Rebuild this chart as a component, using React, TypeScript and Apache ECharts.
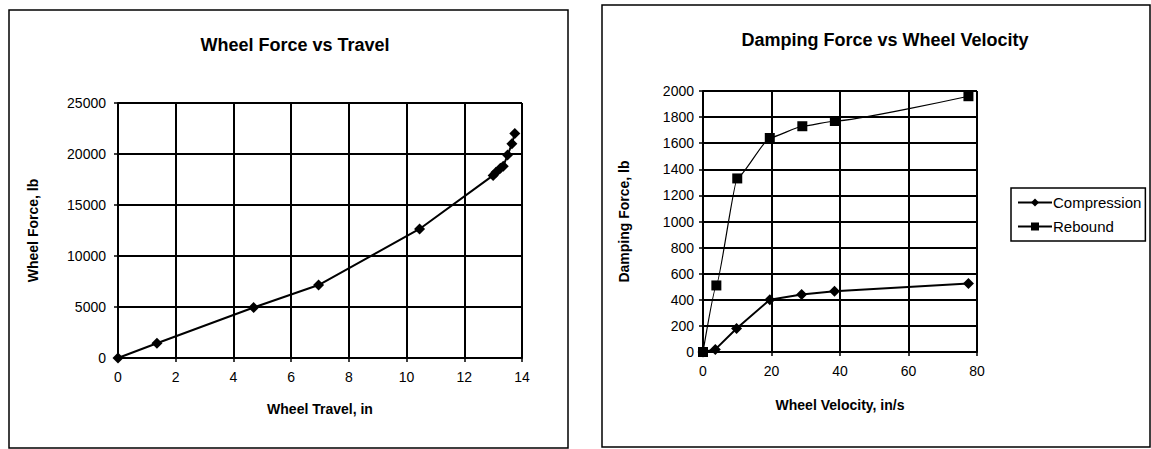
import React, { useEffect, useRef } from "react";
import * as echarts from "echarts";

// Left chart: Wheel Force vs Travel
const travelIn = [0, 1.35, 4.7, 6.95, 10.45, 13.0, 13.1, 13.25, 13.35, 13.5, 13.65, 13.75];
const wheelForceLb = [0, 1450, 4950, 7150, 12650, 17900, 18200, 18600, 18800, 19900, 21000, 22000];

// Right chart: Damping Force vs Wheel Velocity
const compVelocity = [0, 3.6, 9.8, 19.5, 28.8, 38.4, 77.5];
const compForce = [0, 20, 180, 400, 440, 465, 525];
const rebVelocity = [0, 3.9, 10, 19.5, 29, 38.5, 77.5];
const rebForce = [0, 510, 1330, 1640, 1730, 1770, 1960];

const FONT = "Liberation Sans, Arial, sans-serif";

const zip = (xs: number[], ys: number[]) => xs.map((x, i) => [x, ys[i]]);

export default function App() {
  const ref = useRef<HTMLDivElement>(null);
  useEffect(() => {
    if (!ref.current) return;
    const chart = echarts.init(ref.current, null, { renderer: "svg" });
    const axisLabel = { color: "#000", fontSize: 14, fontFamily: FONT, formatter: (v: number) => String(v) };
    const splitLine = { show: true, lineStyle: { color: "#000", width: 2 } };
    const axisLine = { show: true, onZero: false, lineStyle: { color: "#000", width: 2 } };
    const axisTick = { show: true, length: 4, lineStyle: { color: "#000", width: 1.5 } };
    const nameTextStyle = { color: "#000", fontSize: 14, fontWeight: "bold" as const, fontFamily: FONT };
    chart.setOption({
      animation: false,
      backgroundColor: "#fff",
      title: [
        {
          text: "Wheel Force vs Travel",
          left: 290,
          top: 31,
          textAlign: "center",
          textStyle: { color: "#000", fontSize: 18, fontWeight: "bold", fontFamily: FONT },
        },
        {
          text: "Damping Force vs Wheel Velocity",
          left: 880,
          top: 26,
          textAlign: "center",
          textStyle: { color: "#000", fontSize: 18, fontWeight: "bold", fontFamily: FONT },
        },
      ],
      legend: {
        data: ["Compression", "Rebound"],
        orient: "vertical",
        left: 1011,
        top: 188,
        borderColor: "#000",
        borderWidth: 1.5,
        padding: [7, 4, 7, 6],
        itemGap: 9,
        itemWidth: 34,
        itemHeight: 10,
        textStyle: { color: "#000", fontSize: 15, fontFamily: FONT, padding: [0, 0, 0, -4] },
      },
      grid: [
        { left: 118, top: 103, width: 404, height: 255, containLabel: false },
        { left: 703, top: 91, width: 274, height: 261, containLabel: false },
      ],
      xAxis: [
        {
          gridIndex: 0,
          type: "value",
          min: 0,
          max: 14,
          interval: 2,
          name: "Wheel Travel, in",
          nameLocation: "middle",
          nameGap: 44,
          nameTextStyle,
          axisLabel: { ...axisLabel, margin: 12 },
          axisLine,
          axisTick,
          splitLine,
        },
        {
          gridIndex: 1,
          type: "value",
          min: 0,
          max: 80,
          interval: 20,
          name: "Wheel Velocity, in/s",
          nameLocation: "middle",
          nameGap: 46,
          nameTextStyle,
          axisLabel: { ...axisLabel, margin: 12 },
          axisLine,
          axisTick,
          splitLine,
        },
      ],
      yAxis: [
        {
          gridIndex: 0,
          type: "value",
          min: 0,
          max: 25000,
          interval: 5000,
          name: "Wheel Force, lb",
          nameLocation: "middle",
          nameGap: 78,
          nameTextStyle,
          axisLabel: { ...axisLabel, margin: 12 },
          axisLine,
          axisTick,
          splitLine,
        },
        {
          gridIndex: 1,
          type: "value",
          min: 0,
          max: 2000,
          interval: 200,
          name: "Damping Force, lb",
          nameLocation: "middle",
          nameGap: 72,
          nameTextStyle,
          axisLabel: { ...axisLabel, margin: 9 },
          axisLine,
          axisTick,
          splitLine,
        },
      ],
      series: [
        {
          name: "Wheel Force",
          type: "line",
          xAxisIndex: 0,
          yAxisIndex: 0,
          data: zip(travelIn, wheelForceLb),
          smooth: false,
          symbol: "diamond",
          symbolSize: 11,
          itemStyle: { color: "#000" },
          lineStyle: { color: "#000", width: 2 },
        },
        {
          name: "Compression",
          type: "line",
          xAxisIndex: 1,
          yAxisIndex: 1,
          data: zip(compVelocity, compForce),
          smooth: false,
          symbol: "diamond",
          symbolSize: 11,
          itemStyle: { color: "#000" },
          lineStyle: { color: "#000", width: 2 },
        },
        {
          name: "Rebound",
          type: "line",
          xAxisIndex: 1,
          yAxisIndex: 1,
          data: zip(rebVelocity, rebForce),
          smooth: 0.15,
          smoothMonotone: "x",
          symbol: "rect",
          symbolSize: 10,
          itemStyle: { color: "#000" },
          lineStyle: { color: "#000", width: 1.2 },
        },
      ],
      graphic: [
        {
          type: "rect",
          shape: { x: 9, y: 10, width: 559, height: 438 },
          style: { fill: "none", stroke: "#000", lineWidth: 1.5 },
          silent: true,
        },
        {
          type: "rect",
          shape: { x: 602, y: 5, width: 548, height: 442 },
          style: { fill: "none", stroke: "#000", lineWidth: 1.5 },
          silent: true,
        },
      ],
    });
    return () => chart.dispose();
  }, []);
  return (
    <div
      ref={ref}
      style={{ position: "absolute", left: 0, top: 0, width: 1151, height: 449, background: "#fff" }}
    />
  );
}
